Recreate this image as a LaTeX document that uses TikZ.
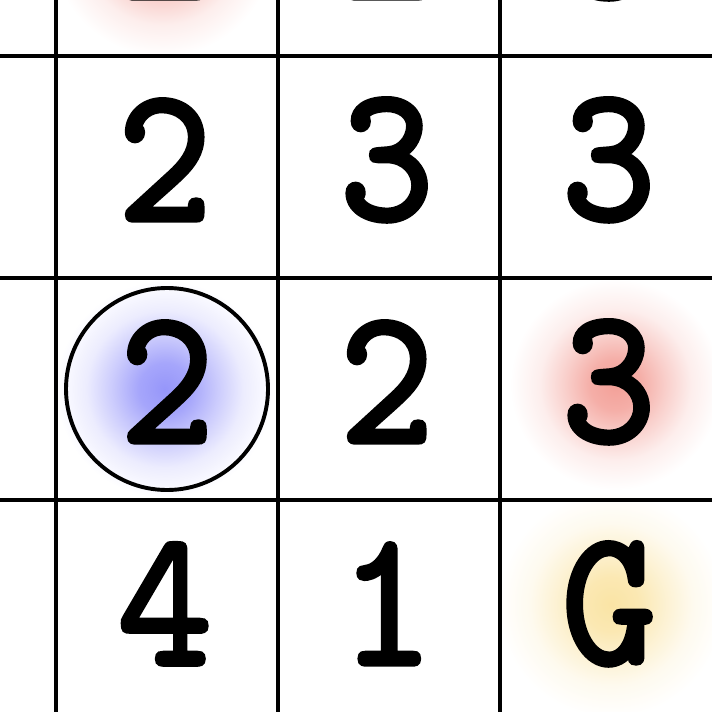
\documentclass[tikz,border=0pt]{standalone}
\usepackage{fontspec}
\usepackage{tikz}
\usetikzlibrary{positioning}

\newfontfamily\cellfont{lmmono10-regular.otf}[FakeBold=2.2, FakeStretch=0.92]

\definecolor{glowred}{RGB}{243,160,152}
\definecolor{glowblue}{RGB}{150,150,250}
\definecolor{glowyellow}{RGB}{250,228,165}
\colorlet{glowc}{glowred}

\pgfdeclareradialshading[glowc]{glow}{\pgfpoint{0bp}{0bp}}{color(0bp)=(glowc); color(6bp)=(glowc!85!white); color(12bp)=(glowc!50!white); color(18bp)=(glowc!18!white); color(25bp)=(white); color(50bp)=(white)}

\tikzset{
	cell/.style={font=\cellfont\fontsize{50}{52}\selectfont, inner sep=0pt},
	grid line/.style={line width=1pt},
	glowing/.style={/utils/exec={\colorlet{glowc}{#1}}, shading=glow}
}

\begin{document}
\begin{tikzpicture}[x=2cm,y=-2cm]
	\useasboundingbox (-0.2523,-0.2523) rectangle (2.955,2.955);
	
	% GLOWS
	\shade[glowing=glowred] (0.48,-0.5) circle (1.0cm);
	\shade[glowing=glowred] (2.52,1.48) circle (0.95cm);
	\shade[glowing=glowblue] (0.49,1.5) circle (0.98cm);
	\shade[glowing=glowyellow] (2.5,2.47) circle (1.02cm);
	
	% GRID
	\foreach \k in {0,1,2} {
		\draw[grid line] (-0.3,\k) -- (3,\k);
		\draw[grid line] (\k,-0.3) -- (\k,3);
	}
	
	% NUMBERS
	\foreach \c/\r/\t in {0/-1/2, 1/-1/2, 2/-1/3,
			0/0/2, 1/0/3, 2/0/3,
			1/1/2, 2/1/3,
			0/2/4, 1/2/1, 2/2/G}
		\node[cell] (cell-\c-\r) at (\c+0.49,\r+0.468) {\t};
	
	% CURRENT CELL
	\node[circle, draw, line width=1pt, minimum size=1.82cm] (cur) at (0.5,1.5) {};
	\node[cell] (cell-0-1) at (cur.center) [yshift=0.064cm] {2};
\end{tikzpicture}
\end{document}
